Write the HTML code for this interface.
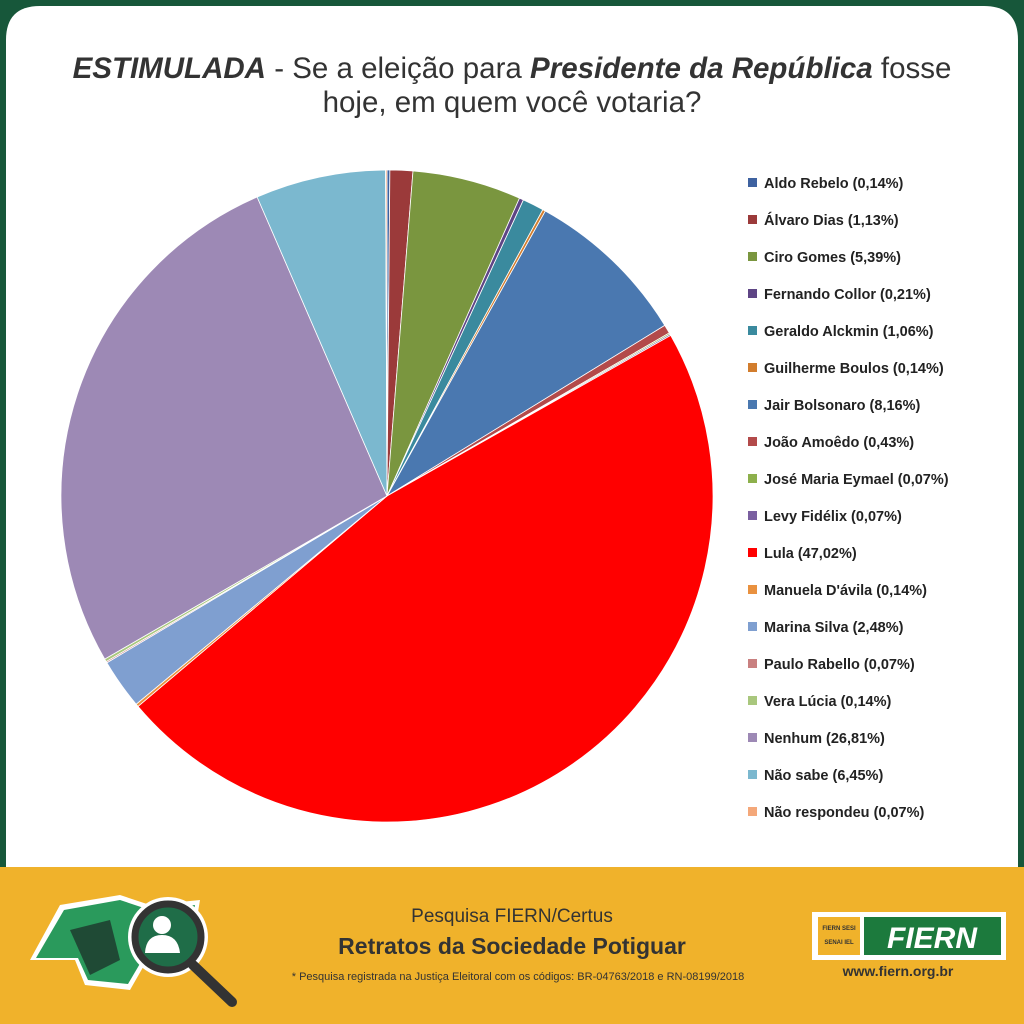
<!DOCTYPE html>
<html><head><meta charset="utf-8"><style>
html,body{margin:0;padding:0;width:1024px;height:1024px;overflow:hidden;background:#17573a;}
</style></head><body>
<svg width="1024" height="1024" xmlns="http://www.w3.org/2000/svg" font-family="Liberation Sans, DejaVu Sans, sans-serif">
<rect x="0" y="0" width="1024" height="1024" fill="#17573a"/>
<path d="M6 867 V40 Q6 6 40 6 H984 Q1018 6 1018 40 V867 Z" fill="#fff"/>
<rect x="0" y="867" width="1024" height="157" fill="#f0b22b"/>
<text x="512" y="78" text-anchor="middle" font-size="29.5" fill="#333"><tspan font-weight="bold" font-style="italic">ESTIMULADA</tspan> - Se a eleição para <tspan font-weight="bold" font-style="italic">Presidente da República</tspan> fosse</text>
<text x="512" y="112" text-anchor="middle" font-size="29.5" fill="#333">hoje, em quem você votaria?</text>
<g id="pie" stroke="#fff" stroke-width="0.8"></g>
<g id="leg" font-size="14.5" font-weight="bold" fill="#222"></g>
<!-- footer -->
<g>
<path d="M30 960 L60 905 L120 895 L150 905 L200 900 L190 960 L150 955 L130 990 L85 985 L75 960 Z" fill="#fff"/>
<path d="M36 958 L64 910 L120 900 L150 910 L195 905 L186 955 L148 950 L128 984 L88 980 L78 958 Z" fill="#2a9a5c"/>
<path d="M70 930 L110 920 L120 960 L90 975 Z" fill="#1f4a35"/>
<circle cx="168" cy="937" r="40" fill="#fff"/>
<circle cx="168" cy="937" r="33" fill="#1f6d48" stroke="#333" stroke-width="7"/>
<circle cx="162" cy="925" r="9" fill="#fff"/><path d="M145 953 Q146 935 162 935 Q178 935 180 953 Z" fill="#fff"/>
<line x1="193" y1="965" x2="232" y2="1002" stroke="#333" stroke-width="10" stroke-linecap="round"/>
<text x="512" y="922" text-anchor="middle" font-size="19" fill="#333">Pesquisa FIERN/Certus</text>
<text x="512" y="954" text-anchor="middle" font-size="23" font-weight="bold" fill="#333">Retratos da Sociedade Potiguar</text>
<text x="518" y="980" text-anchor="middle" font-size="11" fill="#333">* Pesquisa registrada na Justiça Eleitoral com os códigos: BR-04763/2018 e RN-08199/2018</text>
<rect x="812" y="912" width="194" height="48" fill="#fff"/>
<rect x="818" y="917" width="42" height="38" fill="#f0b22b"/>
<text x="839" y="930" text-anchor="middle" font-size="6" font-weight="bold" fill="#333">FIERN SESI</text>
<text x="839" y="944" text-anchor="middle" font-size="6" font-weight="bold" fill="#333">SENAI IEL</text>
<rect x="864" y="917" width="137" height="38" fill="#1c7a3d"/>
<text x="932" y="948" text-anchor="middle" font-size="30" font-weight="bold" font-style="italic" fill="#fff">FIERN</text>
<text x="898" y="976" text-anchor="middle" font-size="14" font-weight="bold" fill="#333">www.fiern.org.br</text>
</g>
</svg>
<script>
var d=[["Aldo Rebelo (0,14%)",0.14,"#3e62a0"],["Álvaro Dias (1,13%)",1.13,"#9b3a3a"],["Ciro Gomes (5,39%)",5.39,"#7a963f"],["Fernando Collor (0,21%)",0.21,"#5e4585"],["Geraldo Alckmin (1,06%)",1.06,"#3a8a9e"],["Guilherme Boulos (0,14%)",0.14,"#d27d2d"],["Jair Bolsonaro (8,16%)",8.16,"#4a78b0"],["João Amoêdo (0,43%)",0.43,"#b34a4a"],["José Maria Eymael (0,07%)",0.07,"#8db04c"],["Levy Fidélix (0,07%)",0.07,"#7a5fa0"],["Lula (47,02%)",47.02,"#ff0000"],["Manuela D'ávila (0,14%)",0.14,"#e9913f"],["Marina Silva (2,48%)",2.48,"#7f9fd0"],["Paulo Rabello (0,07%)",0.07,"#c98080"],["Vera Lúcia (0,14%)",0.14,"#a9c77d"],["Nenhum (26,81%)",26.81,"#9d89b5"],["Não sabe (6,45%)",6.45,"#7bb8cf"],["Não respondeu (0,07%)",0.07,"#f4a87a"]];
var tot=0;d.forEach(function(x){tot+=x[1];});
var cx=387,cy=496,r=326,a=0,ns="http://www.w3.org/2000/svg",pie=document.getElementById("pie"),leg=document.getElementById("leg");
d.forEach(function(x,i){
 var b=a+x[1]/tot*2*Math.PI;
 var x1=cx+r*Math.sin(a),y1=cy-r*Math.cos(a),x2=cx+r*Math.sin(b),y2=cy-r*Math.cos(b);
 var p=document.createElementNS(ns,"path");
 p.setAttribute("d","M"+cx+" "+cy+" L"+x1+" "+y1+" A"+r+" "+r+" 0 "+((b-a)>Math.PI?1:0)+" 1 "+x2+" "+y2+" Z");
 p.setAttribute("fill",x[2]);pie.appendChild(p);a=b;
 var y=183+i*37;
 var m=document.createElementNS(ns,"rect");m.setAttribute("x",748);m.setAttribute("y",y-5);m.setAttribute("width",9);m.setAttribute("height",9);m.setAttribute("fill",x[2]);leg.appendChild(m);
 var t=document.createElementNS(ns,"text");t.setAttribute("x",764);t.setAttribute("y",y+5);t.textContent=x[0];leg.appendChild(t);
});
</script>
</body></html>
